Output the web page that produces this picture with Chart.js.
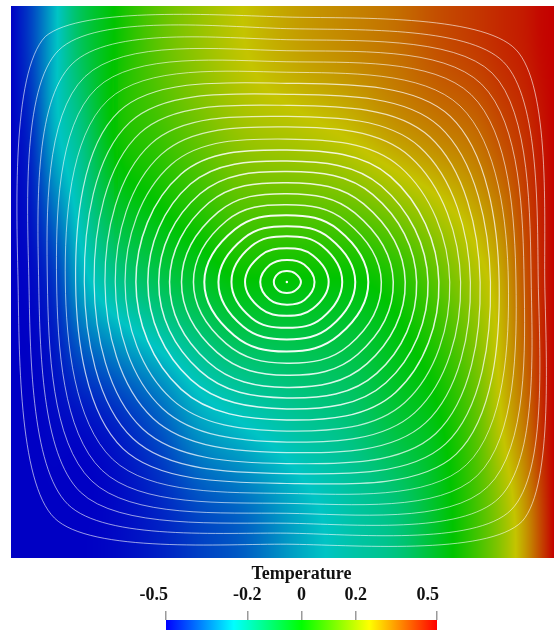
<!DOCTYPE html>
<html>
<head>
<meta charset="utf-8">
<script src="https://cdn.jsdelivr.net/npm/chart.js@4.4.1/dist/chart.umd.min.js"></script>
<style>
  html, body { margin: 0; padding: 0; background: #fff; }
  #wrap { position: relative; width: 558px; height: 630px; }
  #field { position: absolute; left: 0; top: 0; }
  #bar { position: absolute; left: 0; top: 562px; }
</style>
</head>
<body>
<div id="wrap">
  <canvas id="field" width="558" height="562"></canvas>
  <canvas id="bar" width="558" height="68"></canvas>
</div>
<script>
// temperature field on a non-uniform grid (x left -> right, y bottom -> top)
const gridX = [0, 0.035, 0.080, 0.126, 0.190, 0.272, 0.346, 0.428, 0.528, 0.620, 0.711, 0.784, 0.857, 0.903, 0.949, 0.976, 1];
const gridY = [0, 0.031, 0.255, 0.507, 0.759, 0.966, 1];
const temperature = [
  [-0.5, -0.5, -0.5, -0.5, -0.49, -0.46, -0.42, -0.38, -0.29, -0.22, -0.16, -0.05, 0.08, 0.18, 0.31, 0.41, 0.5],
  [-0.5, -0.5, -0.5, -0.5, -0.49, -0.46, -0.42, -0.38, -0.29, -0.22, -0.16, -0.05, 0.08, 0.18, 0.31, 0.41, 0.5],
  [-0.5, -0.5, -0.49, -0.48, -0.45, -0.38, -0.29, -0.24, -0.19, -0.15, -0.07, -0.01, 0.12, 0.25, 0.36, 0.44, 0.5],
  [-0.5, -0.49, -0.43, -0.29, -0.18, -0.10, -0.05, 0, 0, 0, 0.04, 0.12, 0.22, 0.29, 0.40, 0.45, 0.5],
  [-0.5, -0.45, -0.28, -0.18, 0, 0.07, 0.13, 0.19, 0.22, 0.25, 0.30, 0.33, 0.36, 0.40, 0.44, 0.47, 0.5],
  [-0.5, -0.42, -0.27, -0.12, 0, 0.12, 0.19, 0.25, 0.30, 0.33, 0.36, 0.40, 0.43, 0.45, 0.47, 0.49, 0.5],
  [-0.5, -0.42, -0.27, -0.12, 0, 0.12, 0.19, 0.25, 0.30, 0.33, 0.36, 0.40, 0.43, 0.45, 0.47, 0.49, 0.5]
];

// streamlines: distance from the vortex centre along eight rays, innermost loop first
const vortexCentre = [0.508, 0.500];
const rayAngles = [180, 135, 90, 45, 0, -45, -90, -135];
const rW  = [0.024, 0.049, 0.077, 0.102, 0.126, 0.152, 0.172, 0.194, 0.216, 0.236, 0.256, 0.278, 0.298, 0.316, 0.335, 0.355, 0.373, 0.389, 0.408, 0.424, 0.441, 0.457, 0.475, 0.495];
const rNW = [0.022, 0.044, 0.068, 0.092, 0.112, 0.135, 0.157, 0.179, 0.203, 0.226, 0.251, 0.276, 0.301, 0.327, 0.354, 0.382, 0.409, 0.437, 0.466, 0.496, 0.526, 0.559, 0.594, 0.629];
const rN  = [0.020, 0.040, 0.061, 0.083, 0.101, 0.121, 0.140, 0.160, 0.180, 0.200, 0.219, 0.239, 0.259, 0.281, 0.300, 0.320, 0.340, 0.360, 0.380, 0.399, 0.419, 0.439, 0.459, 0.480];
const rNE = [0.022, 0.045, 0.068, 0.092, 0.112, 0.134, 0.155, 0.177, 0.200, 0.224, 0.246, 0.270, 0.295, 0.321, 0.346, 0.372, 0.398, 0.425, 0.451, 0.480, 0.507, 0.535, 0.564, 0.596];
const rE  = [0.026, 0.051, 0.077, 0.102, 0.126, 0.150, 0.174, 0.196, 0.218, 0.239, 0.260, 0.280, 0.300, 0.320, 0.338, 0.356, 0.375, 0.391, 0.408, 0.422, 0.437, 0.450, 0.463, 0.475];
const rSE = [0.022, 0.046, 0.068, 0.092, 0.114, 0.136, 0.162, 0.185, 0.209, 0.234, 0.258, 0.283, 0.308, 0.334, 0.361, 0.388, 0.414, 0.441, 0.468, 0.496, 0.524, 0.553, 0.584, 0.613];
const rS  = [0.020, 0.041, 0.061, 0.083, 0.104, 0.126, 0.147, 0.169, 0.191, 0.210, 0.230, 0.250, 0.270, 0.290, 0.309, 0.329, 0.347, 0.365, 0.383, 0.401, 0.419, 0.437, 0.455, 0.475];
const rSW = [0.022, 0.045, 0.068, 0.092, 0.114, 0.137, 0.158, 0.181, 0.205, 0.227, 0.250, 0.275, 0.300, 0.324, 0.349, 0.376, 0.401, 0.427, 0.454, 0.482, 0.509, 0.538, 0.570, 0.605];

// colour map + colour bar ticks
const cmapValues = [-0.5, -0.25, 0, 0.25, 0.5];
const cmapColours = [[0, 0, 255], [0, 255, 255], [0, 255, 0], [255, 255, 0], [255, 0, 0]];
const barTicks = [-0.5, -0.2, 0, 0.2, 0.5];
const barLabels = ['-0.5', '-0.2', '0', '0.2', '0.5'];

const fieldShade = 0.77;
const labelFont = { family: '"Liberation Serif", "Times New Roman", serif', size: 18, weight: 'bold' };
// squarer outer loops need a slacker spline so their sides stay straight
const loopTension = [0.4, 0.4, 0.4, 0.4, 0.4, 0.4, 0.4, 0.395, 0.39, 0.39, 0.38, 0.375, 0.37, 0.365, 0.36, 0.355, 0.35, 0.345, 0.34, 0.335, 0.33, 0.31, 0.29, 0.27];

function colourFor(t, shade) {
  const n = cmapValues.length;
  if (t <= cmapValues[0]) return cmapColours[0].map(c => c * shade);
  if (t >= cmapValues[n - 1]) return cmapColours[n - 1].map(c => c * shade);
  let i = 0;
  while (t > cmapValues[i + 1]) i++;
  const f = (t - cmapValues[i]) / (cmapValues[i + 1] - cmapValues[i]);
  return cmapColours[i].map((c, k) => (c + (cmapColours[i + 1][k] - c) * f) * shade);
}

// monotone cubic between samples so the field has no creases
function smoothAt(xs, ys, v) {
  const n = xs.length;
  let i = 0;
  while (i < n - 2 && v > xs[i + 1]) i++;
  const h = xs[i + 1] - xs[i];
  const t = Math.min(1, Math.max(0, (v - xs[i]) / h));
  const d = k => (ys[k + 1] - ys[k]) / (xs[k + 1] - xs[k]);
  const slope = k => {
    if (k === 0) return d(0);
    if (k === n - 1) return d(n - 2);
    const a = d(k - 1), b = d(k);
    return a * b <= 0 ? 0 : (a + b) / 2;
  };
  const m0 = slope(i) * h, m1 = slope(i + 1) * h;
  const t2 = t * t, t3 = t2 * t;
  return (2 * t3 - 3 * t2 + 1) * ys[i] + (t3 - 2 * t2 + t) * m0 + (-2 * t3 + 3 * t2) * ys[i + 1] + (t3 - t2) * m1;
}

// paints the temperature field under the streamlines
const heatmap = {
  id: 'heatmap',
  beforeDatasetsDraw(chart) {
    const { ctx, chartArea: a, scales: { x, y } } = chart;
    const w = Math.round(a.right - a.left), h = Math.round(a.bottom - a.top);
    const img = ctx.createImageData(w, h);
    const cols = [];
    for (let i = 0; i < w; i++) {
      const xv = x.getValueForPixel(a.left + i + 0.5);
      cols.push(temperature.map(row => smoothAt(gridX, row, xv)));
    }
    for (let j = 0; j < h; j++) {
      const yv = y.getValueForPixel(a.top + j + 0.5);
      for (let i = 0; i < w; i++) {
        const c = colourFor(smoothAt(gridY, cols[i], yv), fieldShade);
        const p = (j * w + i) * 4;
        img.data[p] = c[0]; img.data[p + 1] = c[1]; img.data[p + 2] = c[2]; img.data[p + 3] = 255;
      }
    }
    ctx.putImageData(img, Math.round(a.left), Math.round(a.top));
  }
};

// streamlines are closed curves
const closedLoops = {
  id: 'closedLoops',
  afterDatasetsUpdate(chart) {
    chart.data.datasets.forEach((ds, i) => {
      if (!ds.closed) return;
      const line = chart.getDatasetMeta(i).dataset;
      line._loop = true;
      line._fullLoop = true;
      line._pointsUpdated = false;
      delete line._segments;
      delete line._path;
    });
  }
};

const rays = [rW, rNW, rN, rNE, rE, rSE, rS, rSW];
const loops = rW.map((_, k) => rays.map((r, n) => {
  const a = rayAngles[n] * Math.PI / 180;
  return { x: vortexCentre[0] + r[k] * Math.cos(a), y: vortexCentre[1] + r[k] * Math.sin(a) };
}));

const streamDatasets = loops.map((pts, k) => ({
  data: pts,
  closed: true,
  borderColor: `rgba(255,255,255,${k < 6 ? 0.95 : k < 12 ? 0.85 : k < 18 ? 0.72 : 0.6})`,
  borderWidth: k < 6 ? 2 : k < 12 ? 1.5 : k < 18 ? 1.2 : 1,
  tension: loopTension[k],
  pointRadius: 0,
  fill: false
}));

new Chart(document.getElementById('field'), {
  type: 'line',
  data: {
    datasets: [...streamDatasets, {
      data: [{ x: vortexCentre[0], y: vortexCentre[1] }],
      showLine: false,
      pointRadius: 1.2,
      pointBackgroundColor: '#fff',
      pointBorderWidth: 0
    }]
  },
  options: {
    responsive: false,
    animation: false,
    layout: { padding: { left: 11, top: 6, right: 0, bottom: 0 } },
    plugins: { legend: { display: false }, tooltip: { enabled: false } },
    scales: {
      x: { type: 'linear', min: 0, max: 1, display: false },
      y: { type: 'linear', min: 0, max: 1, display: false }
    }
  },
  plugins: [heatmap, closedLoops]
});

// colour bar drawn in the chart area of a second chart
const colourBar = {
  id: 'colourBar',
  beforeDatasetsDraw(chart) {
    const { ctx, chartArea: a, scales: { x } } = chart;
    const g = ctx.createLinearGradient(a.left, 0, a.right, 0);
    cmapValues.forEach((v, i) => {
      const c = cmapColours[i];
      g.addColorStop((x.getPixelForValue(v) - a.left) / (a.right - a.left), `rgb(${c[0]},${c[1]},${c[2]})`);
    });
    ctx.fillStyle = g;
    ctx.fillRect(a.left, a.top, a.right - a.left, a.bottom - a.top);
  },
  // end labels sit flush against their ticks, inner ones are centred
  afterDraw(chart) {
    const { ctx, chartArea: a, scales: { x } } = chart;
    ctx.save();
    ctx.font = `bold ${labelFont.size}px ${labelFont.family}`;
    ctx.fillStyle = '#111';
    ctx.textBaseline = 'alphabetic';
    barTicks.forEach((v, i) => {
      const end = i === 0 || i === barTicks.length - 1;
      ctx.textAlign = end ? 'right' : 'center';
      ctx.fillText(barLabels[i], x.getPixelForValue(v) + (end ? 2 : 0), a.top - 20);
    });
    ctx.restore();
  }
};

new Chart(document.getElementById('bar'), {
  type: 'line',
  data: { datasets: [] },
  options: {
    responsive: false,
    animation: false,
    layout: { padding: { left: 166, right: 121, top: 0, bottom: 0 } },
    plugins: { legend: { display: false }, tooltip: { enabled: false } },
    scales: {
      x: {
        type: 'linear',
        position: 'top',
        min: -0.5,
        max: 0.5,
        afterBuildTicks: s => { s.ticks = barTicks.map(v => ({ value: v })); },
        afterFit: s => { s.height = 58; },
        border: { display: false },
        grid: { drawOnChartArea: false, drawTicks: true, tickLength: 9, color: '#9a9a9a', lineWidth: 1.5 },
        ticks: { display: false, autoSkip: false },
        title: { display: true, text: 'Temperature', color: '#111', font: labelFont, padding: { top: 2, bottom: 0 } }
      },
      y: { type: 'linear', min: 0, max: 1, display: false }
    }
  },
  plugins: [colourBar]
});
</script>
</body>
</html>
